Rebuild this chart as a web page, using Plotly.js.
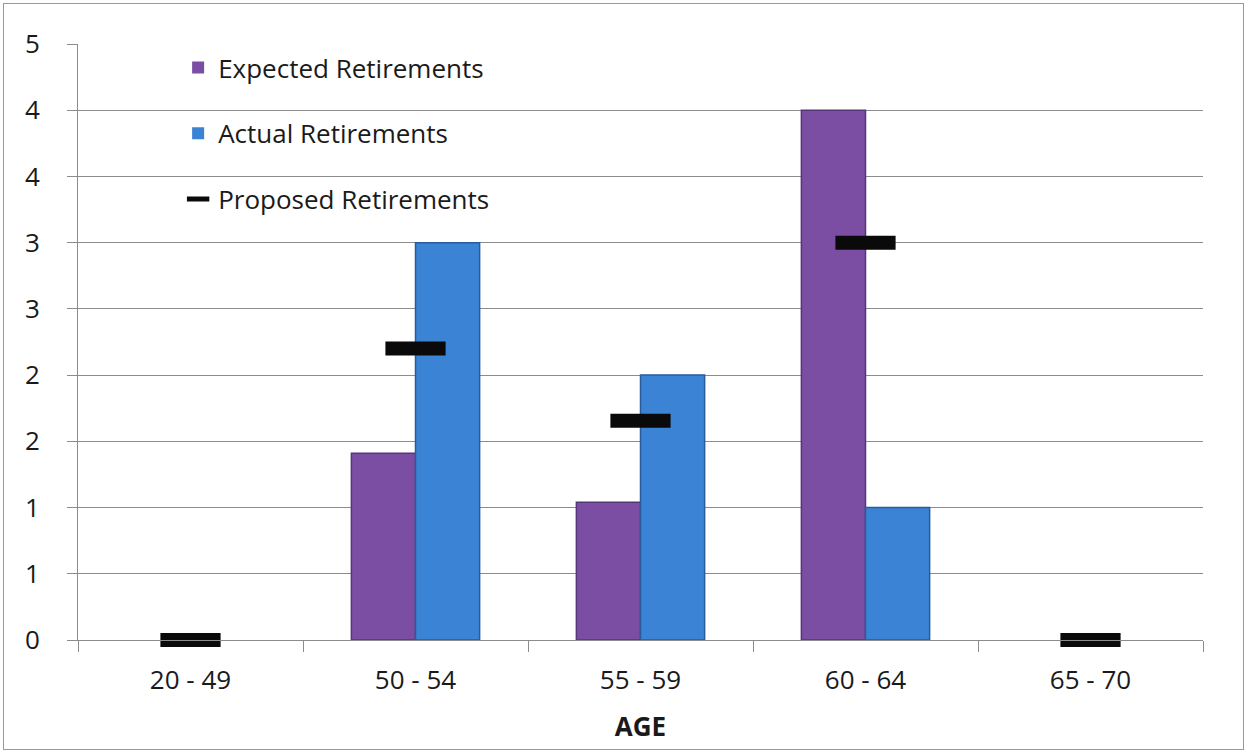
<!DOCTYPE html>
<html>
<head>
<meta charset="utf-8">
<script src="https://cdn.plot.ly/plotly-3.0.1.min.js"></script>
<style>
  html, body { margin: 0; padding: 0; background: #ffffff; }
  #wrap { position: relative; width: 1247px; height: 754px; }
  #chart { width: 1247px; height: 754px; }
  #frame { position: absolute; left: 3px; top: 3px; width: 1239px; height: 745px;
           border: 1px solid #9a9a9a; pointer-events: none; }
</style>
</head>
<body>
<div id="wrap">
  <div id="chart"></div>
  <div id="frame"></div>
</div>
<script>
// ---- data ----
const categories = ['20 - 49', '50 - 54', '55 - 59', '60 - 64', '65 - 70'];
const expectedRetirements = [0, 1.41, 1.04, 4.0, 0];
const actualRetirements   = [0, 3.0, 2.0, 1.0, 0];
const proposedRetirements = [0, 2.2, 1.655, 3.0, 0];
const yTickVals  = [0, 0.5, 1, 1.5, 2, 2.5, 3, 3.5, 4, 4.5];
const yTickText  = ['0', '1', '1', '2', '2', '3', '3', '4', '4', '5'];

const FONT = '"Open Sans", "Noto Sans", sans-serif';
const FS = 26;
const TXT = '#1a1a1a';
const GRID = '#8c8c8c';

// hide the outline of zero-height bars
const edgeWidths = vals => vals.map(v => (v > 0 ? 1.5 : 0));

const traces = [
  {
    type: 'bar', name: 'Expected Retirements', legendgroup: 'g1',
    x: categories, y: expectedRetirements,
    marker: { color: '#7b4ea4', line: { color: '#56367a', width: edgeWidths(expectedRetirements) } },
    hoverinfo: 'x+y'
  },
  {
    type: 'bar', name: 'Actual Retirements', legendgroup: 'g2',
    x: categories, y: actualRetirements,
    marker: { color: '#3a83d5', line: { color: '#2a5c9c', width: edgeWidths(actualRetirements) } },
    hoverinfo: 'x+y'
  },
  {
    type: 'scatter', mode: 'markers', name: 'Proposed Retirements', legendgroup: 'g3',
    x: categories, y: proposedRetirements,
    marker: { symbol: 'line-ew', size: 43, color: '#000000',
              line: { color: '#0a0a0a', width: 14 } },
    cliponaxis: false,
    hoverinfo: 'x+y'
  }
];

const layout = {
  width: 1247, height: 754,
  margin: { l: 78, r: 44, t: 44, b: 114 },
  paper_bgcolor: '#ffffff', plot_bgcolor: '#ffffff',
  font: { family: FONT, size: FS, color: TXT },
  barmode: 'group',
  bargap: 0.43, bargroupgap: 0,
  showlegend: true,
  legend: {
    x: 0.089, y: 1.0, xanchor: 'left', yanchor: 'top',
    bgcolor: 'rgba(0,0,0,0)', borderwidth: 0,
    traceorder: 'grouped', tracegroupgap: 29,
    font: { family: FONT, size: FS, color: TXT }
  },
  xaxis: {
    type: 'category',
    showline: true, linecolor: GRID, linewidth: 1,
    ticks: 'outside', tickson: 'boundaries', ticklen: 11, tickcolor: GRID,
    showgrid: false, zeroline: false,
    tickfont: { family: FONT, size: FS, color: TXT },
    ticklabelstandoff: 17,
    title: { text: 'AGE', font: { family: FONT, size: FS, color: TXT, weight: 'bold' }, standoff: 21 }
  },
  yaxis: {
    range: [0, 4.5],
    tickvals: yTickVals, ticktext: yTickText,
    showline: true, linecolor: GRID, linewidth: 1,
    ticks: 'outside', ticklen: 10, tickcolor: GRID,
    showgrid: true, gridcolor: GRID, gridwidth: 1,
    zeroline: false,
    tickfont: { family: FONT, size: FS, color: TXT },
    ticklabelstandoff: 22
  }
};

Plotly.newPlot('chart', traces, layout, { displayModeBar: false, responsive: false });
</script>
</body>
</html>
